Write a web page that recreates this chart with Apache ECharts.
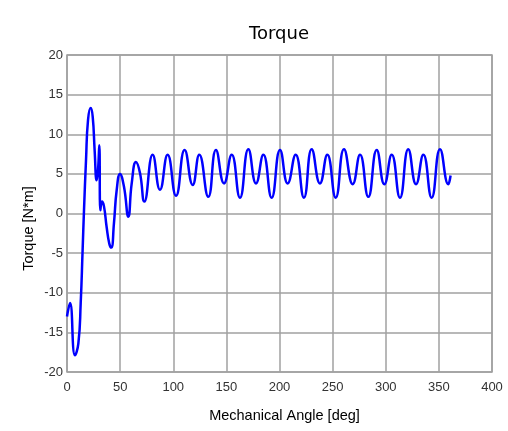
<!DOCTYPE html>
<html>
<head>
<meta charset="utf-8">
<script src="https://cdn.jsdelivr.net/npm/echarts@6/dist/echarts.min.js"></script>
<style>
  html, body { margin: 0; padding: 0; background: #fff; }
  #chart { width: 508px; height: 431px; }
</style>
</head>
<body>
<div id="chart"></div>
<script>
// values (peaks / troughs of the torque curve)
var angle = [0, 2.8, 7.5, 10.7, 12.9, 14.7, 16, 17.9, 19.8, 22.3, 24.2, 26, 27.9, 29.2, 30.4, 31.4,
    32.9, 34.8, 37.3, 39.8, 41.7, 44.2, 46.8, 49.9, 53.6, 57.7, 60.9, 64.9, 68.7, 72.8, 80.6, 87.5,
    94.7, 102.6, 110.7, 118.3, 124.5, 133, 140.2, 147.8, 155, 162.8, 170.7, 177.9, 184.8, 192.6,
    200.5, 207.7, 215.2, 223, 230.3, 238.1, 245, 252.9, 260.7, 268.9, 275.8, 283.6, 291.5, 298.7,
    305.6, 313.4, 321.2, 328.5, 335.4, 343.2, 351.1, 358.9, 361];
var torque = [-13.0, -11.3, -17.9, -16.4, -11.3, -4.6, 0.4, 6.75, 11.8, 13.3, 12.2, 8.0, 4.2, 5.5, 8.6, 0.4,
    1.5, 0.9, -1.7, -3.8, -4.3, -1.2, 3.0, 5.0, 3.4, -0.4, 3.8, 6.5, 5.1, 1.5, 7.4, 3.0,
    7.4, 2.25, 8.0, 3.6, 7.4, 2.1, 8.0, 3.8, 7.4, 2.0, 8.1, 3.8, 7.4, 2.0,
    8.0, 3.8, 7.4, 2.0, 8.1, 3.8, 7.4, 2.0, 8.1, 3.7, 7.4, 2.1, 8.0, 3.7,
    7.4, 2.0, 8.1, 3.7, 7.4, 2.0, 8.1, 3.7, 4.8];

var myChart = echarts.init(document.getElementById('chart'));
var points = angle.map(function (a, i) { return [a, torque[i]]; });

var option = {
    backgroundColor: '#ffffff',
    title: {
        text: 'Torque',
        left: 274,
        top: 20,
        textAlign: 'center',
        textStyle: { fontFamily: 'DejaVu Sans', fontSize: 18, fontWeight: 'normal', color: '#000' }
    },
    grid: {
        left: 67, right: 16, top: 55, bottom: 59,
        show: true, borderColor: '#a0a0a0', borderWidth: 1.5
    },
    xAxis: {
        type: 'value',
        min: 0, max: 400, interval: 50,
        name: 'Mechanical Angle [deg]',
        nameLocation: 'middle',
        nameGap: 36,
        nameTextStyle: { fontFamily: 'Arial', fontSize: 14.5, color: '#000', padding: [0, 0, 0, 10] },
        axisLine: { show: false },
        axisTick: { show: false },
        axisLabel: { margin: 9, fontFamily: 'Arial', fontSize: 13, color: '#333' },
        splitLine: { lineStyle: { color: '#a0a0a0', width: 1.5 } }
    },
    yAxis: {
        type: 'value',
        min: -20, max: 20, interval: 5,
        name: 'Torque [N*m]',
        nameLocation: 'middle',
        nameGap: 31,
        nameMoveOverlap: false,
        nameTextStyle: { fontFamily: 'Arial', fontSize: 14.5, color: '#000', padding: [0, 30, 0, 0] },
        axisLine: { show: false },
        axisTick: { show: false },
        axisLabel: { margin: 4, fontFamily: 'Arial', fontSize: 13, color: '#333' },
        splitLine: { lineStyle: { color: '#a0a0a0', width: 1.5 } }
    },
    series: [{
        type: 'line',
        data: points,
        smooth: 0.5,
        symbol: 'none',
        lineStyle: { color: '#0000ff', width: 2.5 },
        animation: false
    }]
};
myChart.setOption(option);
</script>
</body>
</html>
